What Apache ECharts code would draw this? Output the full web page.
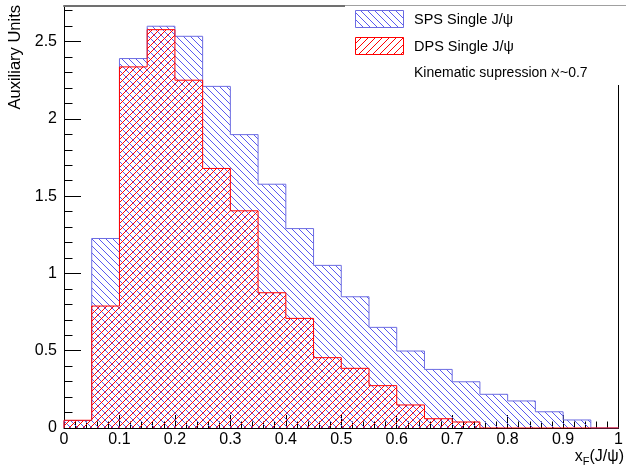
<!DOCTYPE html>
<html><head><meta charset="utf-8">
<script src="https://cdn.jsdelivr.net/npm/echarts@6/dist/echarts.min.js"></script>
<style>html,body{margin:0;padding:0;background:#fff}#c{width:626px;height:467px}</style>
</head><body><div id="c"></div>
<script>
// ---- data ----
const binEdges = [0,0.05,0.1,0.15,0.2,0.25,0.3,0.35,0.4,0.45,0.5,0.55,0.6,0.65,0.7,0.75,0.8,0.85,0.9,0.95,1.0];
const spsValues = [0.048,1.226,2.39,2.599,2.534,2.21,1.898,1.577,1.29,1.052,0.849,0.651,0.498,0.379,0.299,0.218,0.175,0.105,0.052,0];
const dpsValues = [0.05,0.789,2.336,2.577,2.25,1.679,1.405,0.875,0.709,0.455,0.386,0.274,0.149,0.06,0.039,0,0,0,0,0];
const yMajorTicks = [0,0.5,1,1.5,2,2.5];
const yMinorTicks = [0,0.1,0.2,0.3,0.4,0.5,0.6,0.7,0.8,0.9,1.0,1.1,1.2,1.3,1.4,1.5,1.6,1.7,1.8,1.9,2.0,2.1,2.2,2.3,2.4,2.5,2.6,2.7];
const seriesNames = ['SPS Single J/ψ','DPS Single J/ψ'];
const noteText = 'Kinematic supression ℵ~0.7';

function stepData(vals){
  const last = binEdges.length - 1;
  const d = [[binEdges[0], 0]];
  for (let i = 0; i < vals.length; i++) d.push([binEdges[i], vals[i]]);
  d.push([binEdges[last], vals[vals.length-1]]);
  d.push([binEdges[last], 0]);
  return d;
}
function hatch(color, dir){
  const s = 7, c = document.createElement('canvas');
  c.width = s; c.height = s;
  const g = c.getContext('2d');
  g.clearRect(0, 0, s, s);
  g.fillStyle = color;
  for (let i = 0; i < s; i++) g.fillRect(i, dir === '/' ? s-1-i : i, 1, 1);
  return {image: c, repeat: 'repeat'};
}
const blueHatch = '#5a5af0', blueLine = '#6c6ce2', red = '#ff0000';
const font = '"Liberation Sans", Arial, sans-serif';

const chart = echarts.init(document.getElementById('c'));
chart.setOption({
  animation: false,
  backgroundColor: '#fff',
  grid: {left: 64, right: 1, top: 6, bottom: 39, containLabel: false},
  xAxis: [
    {type:'value', min:0, max:1, interval:0.1, position:'bottom',
     axisLine:{show:true, onZero:false, lineStyle:{color:'#000', width:1}},
     axisTick:{show:true, inside:true, length:13, lineStyle:{color:'#000'}},
     minorTick:{show:true, splitNumber:5, length:6.5, lineStyle:{color:'#000'}},
     axisLabel:{color:'#000', fontSize:16, fontFamily:font, margin:4, formatter: v => String(+v.toFixed(2))},
     splitLine:{show:false}, minorSplitLine:{show:false}},
    {type:'value', min:0, max:1, position:'top',
     axisLine:{show:true, onZero:false, lineStyle:{color:'#707070', width:2}},
     axisTick:{show:false}, axisLabel:{show:false}, splitLine:{show:false}}
  ],
  yAxis: [
    {type:'value', min:0, max:2.73, interval:0.5, position:'left',
     axisLine:{show:true, onZero:false, lineStyle:{color:'#000', width:1}},
     axisTick:{show:true, inside:true, length:17, customValues: yMajorTicks, lineStyle:{color:'#000'}},
     axisLabel:{color:'#000', fontSize:16, fontFamily:font, margin:7, customValues: yMajorTicks,
       formatter: v => String(+(+v).toFixed(2))},
     splitLine:{show:false}},
    {type:'value', min:0, max:2.73, interval:0.1, position:'left',
     axisLine:{show:false},
     axisTick:{show:true, inside:true, length:8.5, customValues: yMinorTicks, lineStyle:{color:'#000'}},
     axisLabel:{show:false}, splitLine:{show:false}},
    {type:'value', min:0, max:2.73, position:'right',
     axisLine:{show:true, onZero:false, lineStyle:{color:'#000', width:1}},
     axisTick:{show:false}, axisLabel:{show:false}, splitLine:{show:false}}
  ],
  series: [
    {name: seriesNames[0], type:'line', step:'end', xAxisIndex:0, yAxisIndex:0,
     data: stepData(spsValues), showSymbol:false, symbol:'none',
     lineStyle:{color:blueLine, width:1}, areaStyle:{color: hatch(blueHatch,'\\'), opacity:1}, z:2},
    {name: seriesNames[1], type:'line', step:'end', xAxisIndex:0, yAxisIndex:0,
     data: stepData(dpsValues), showSymbol:false, symbol:'none',
     lineStyle:{color:red, width:1}, areaStyle:{color: hatch(red,'/'), opacity:1}, z:3}
  ],
  graphic: [
    {type:'text', x:15, y:5, rotation:Math.PI/2, z:100,
     style:{text:'Auxiliary Units', font:'16.5px ' + font, fill:'#000', align:'right', verticalAlign:'middle'}},
    {type:'text', x:624, y:457, z:100,
     style:{text:'{a|x}{b|F}{a|(J/ψ)}', align:'right', verticalAlign:'middle', fill:'#000',
       rich:{a:{fontSize:16, fontFamily:font, fill:'#000'}, b:{fontSize:11, fontFamily:font, fill:'#000', padding:[9,0,0,0]}}}},
    {type:'rect', z:100, shape:{x:345, y:4, width:281, height:81}, style:{fill:'#fff', stroke:null}},
    {type:'line', z:101, shape:{x1:345, y1:5.5, x2:626, y2:5.5}, style:{stroke:'#a0a0a0', lineWidth:1}},
    {type:'rect', z:101, shape:{x:355.5, y:10.5, width:48, height:17}, style:{fill: hatch(blueHatch,'\\'), stroke:blueLine, lineWidth:1}},
    {type:'rect', z:101, shape:{x:355.5, y:37.5, width:48, height:17}, style:{fill: hatch(red,'/'), stroke:red, lineWidth:1}},
    {type:'text', z:101, x:414, y:20, style:{text:seriesNames[0], font:'14.5px ' + font, fill:'#000', verticalAlign:'middle'}},
    {type:'text', z:101, x:414, y:46.5, style:{text:seriesNames[1], font:'14.5px ' + font, fill:'#000', verticalAlign:'middle'}},
    {type:'text', z:101, x:414, y:73, style:{text:noteText, font:'14px ' + font, fill:'#000', verticalAlign:'middle'}}
  ]
});
</script></body></html>
